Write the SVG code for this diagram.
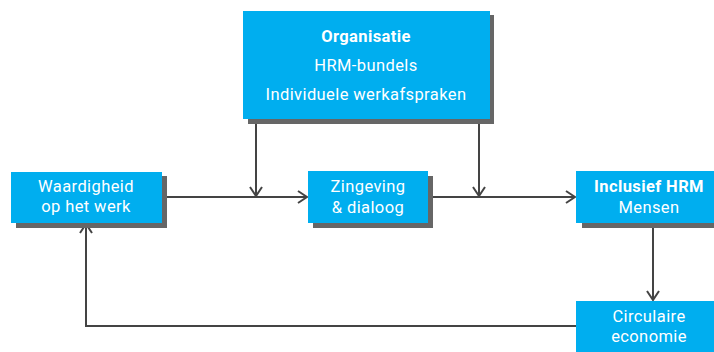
<svg xmlns="http://www.w3.org/2000/svg" width="714" height="352" viewBox="0 0 714 352">
  <defs>
    <style>
      .box { fill: #00AEEF; }
      .shadow { fill: #666666; }
      .t { font-family: Roboto, "Liberation Sans", sans-serif; font-size: 16.5px; letter-spacing: 0.4px; fill: #FFFFFF; text-anchor: middle; }
      .b { font-weight: bold; }
      .line { fill: none; stroke: #444444; stroke-width: 2; }
    </style>
    <marker id="arrow" viewBox="0 0 14 14" refX="13" refY="7" markerWidth="14" markerHeight="14" markerUnits="userSpaceOnUse" orient="auto">
      <path d="M4,1 L13,7 L4,13" fill="none" stroke="#444444" stroke-width="2"/>
    </marker>
  </defs>
  <rect width="714" height="352" fill="#FFFFFF"/>

  <!-- connectors -->
  <g id="connectors">
    <path class="line" d="M162,197 H307" marker-end="url(#arrow)"/>
    <path class="line" d="M428,197 H575" marker-end="url(#arrow)"/>
    <path class="line" d="M256,119 V196" marker-end="url(#arrow)"/>
    <path class="line" d="M479,119 V196" marker-end="url(#arrow)"/>
    <path class="line" d="M653,223 V300" marker-end="url(#arrow)"/>
    <path class="line" d="M576,326 H86 V224" marker-end="url(#arrow)"/>
  </g>

  <g id="organisatie">
    <rect class="shadow" x="248" y="15" width="246" height="109"/>
    <rect class="box" x="243" y="11" width="247" height="108"/>
    <text class="t b" x="366" y="42">Organisatie</text>
    <text class="t" x="366" y="71">HRM-bundels</text>
    <text class="t" x="366" y="100">Individuele werkafspraken</text>
  </g>

  <g id="waardigheid">
    <rect class="shadow" x="16" y="176" width="151" height="52"/>
    <rect class="box" x="11" y="172" width="151" height="51"/>
    <text class="t" x="86" y="192">Waardigheid</text>
    <text class="t" x="86" y="212">op het werk</text>
  </g>

  <g id="zingeving">
    <rect class="shadow" x="313" y="176" width="120" height="52"/>
    <rect class="box" x="308" y="171" width="120" height="52"/>
    <text class="t" x="368" y="192">Zingeving</text>
    <text class="t" x="368" y="213">&amp; dialoog</text>
  </g>

  <g id="inclusief-hrm">
    <rect class="shadow" x="582" y="176" width="140" height="52"/>
    <rect class="box" x="576" y="171" width="146" height="52"/>
    <text class="t b" x="649" y="192">Inclusief HRM</text>
    <text class="t" x="649" y="213">Mensen</text>
  </g>

  <g id="circulaire-economie">
    <rect class="box" x="576" y="301" width="146" height="56"/>
    <text class="t" x="649" y="322">Circulaire</text>
    <text class="t" x="649" y="342">economie</text>
  </g>
</svg>
